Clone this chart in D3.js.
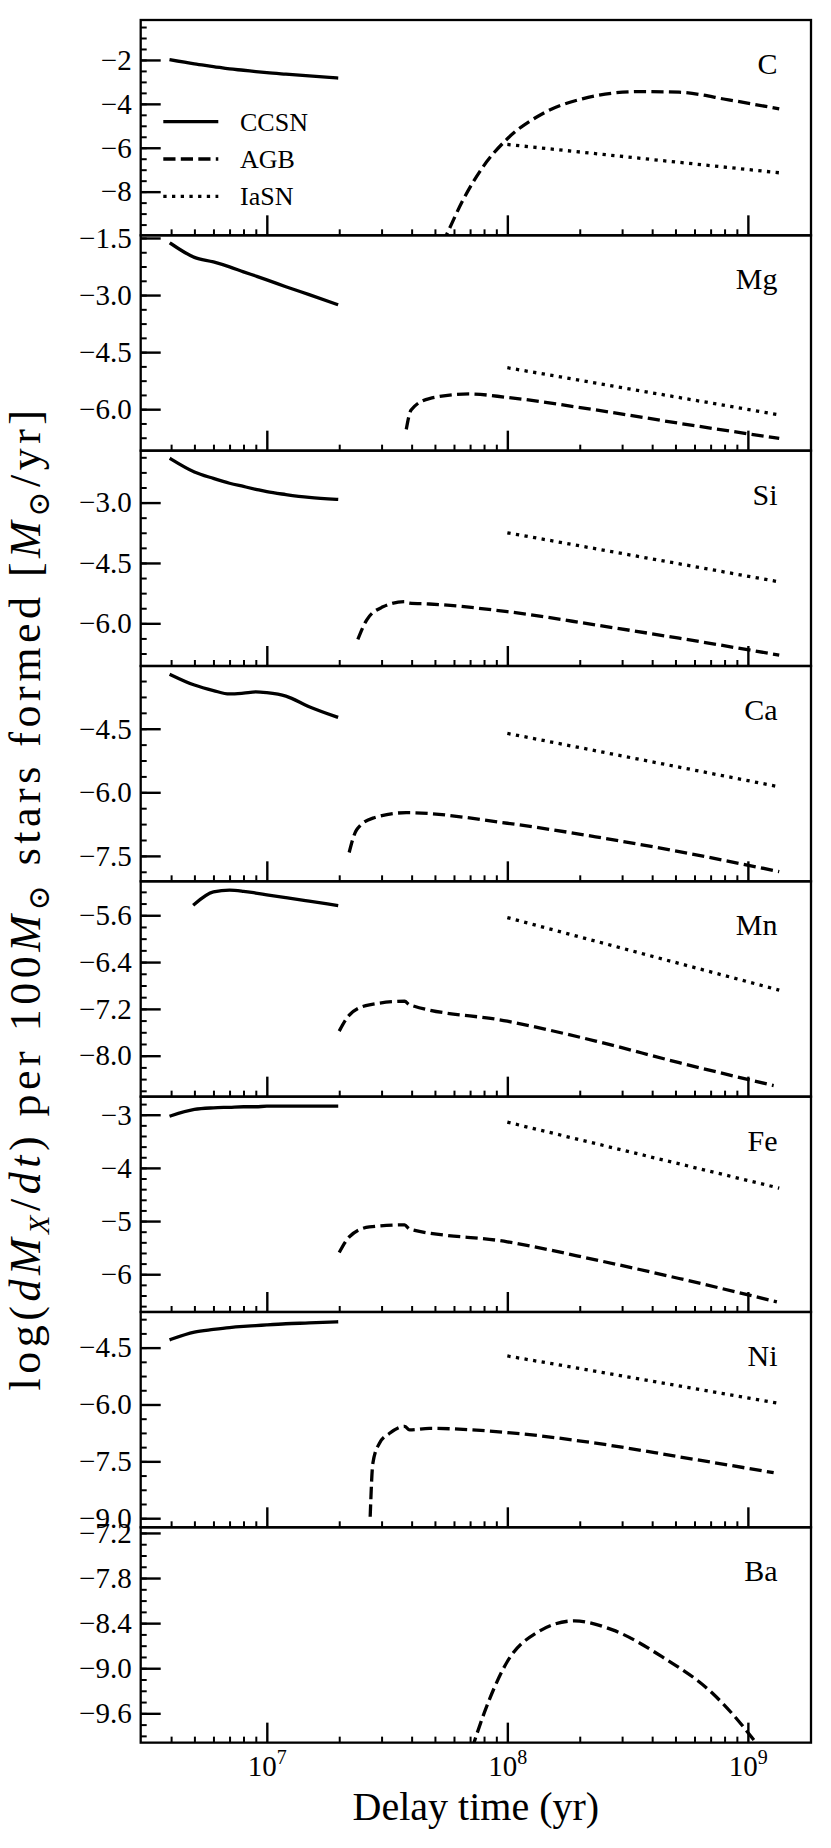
<!DOCTYPE html>
<html>
<head>
<meta charset="utf-8">
<script src="https://cdn.jsdelivr.net/npm/d3@7"></script>
<style>
  body { margin: 0; background: #fff; }
  svg text { font-family: "Liberation Serif", "Tinos", "Times New Roman", "DejaVu Serif", "Noto Serif", serif; }
</style>
</head>
<body>
<div id="chart"></div>
<script>
// panels, top to bottom
const elements = ["C", "Mg", "Si", "Ca", "Mn", "Fe", "Ni", "Ba"];

// x axis (delay time, yr)
const xLim = [2.99e6, 1.83e9];
const xMajorTicks = [1e7, 1e8, 1e9];
const xMinorTicks = [4e6, 5e6, 6e6, 7e6, 8e6, 9e6,
                     2e7, 3e7, 4e7, 5e7, 6e7, 7e7, 8e7, 9e7,
                     2e8, 3e8, 4e8, 5e8, 6e8, 7e8, 8e8, 9e8];

// y limits, major ticks, minor step and label format per panel
const yLims = [[-9.99, -0.18], [-7.09, -1.43], [-7.06, -1.71], [-8.10, -3.02],
               [-8.70, -5.02], [-6.71, -2.66], [-9.24, -3.56], [-9.99, -7.125]];
const yMajor = [[-2, -4, -6, -8], [-1.5, -3.0, -4.5, -6.0], [-3.0, -4.5, -6.0], [-4.5, -6.0, -7.5],
                [-5.6, -6.4, -7.2, -8.0], [-3, -4, -5, -6], [-4.5, -6.0, -7.5, -9.0],
                [-7.2, -7.8, -8.4, -9.0, -9.6]];
const yMinorStep = [0.5, 0.375, 0.375, 0.375, 0.2, 0.2, 0.375, 0.15];
const yFormat = [".0f", ".1f", ".1f", ".1f", ".1f", ".0f", ".1f", ".1f"];

// CCSN (solid)
const ccsnTime = [4e6, 5e6, 6e6, 7e6, 8e6, 9e6, 1e7, 1.2e7, 1.5e7, 1.95e7];
const ccsnC  = [-2.00, -2.18, -2.30, -2.41, -2.47, -2.53, -2.58, -2.65, -2.73, -2.82];
const ccsnMg = [-1.65, -2.01, -2.13, -2.26, -2.39, -2.50, -2.60, -2.78, -2.99, -3.24];
const ccsnSi = [-1.92, -2.24, -2.40, -2.52, -2.60, -2.67, -2.73, -2.80, -2.87, -2.92];
const ccsnCa = [-3.23, -3.47, -3.60, -3.68, -3.66, -3.63, -3.65, -3.73, -3.98, -4.22];
const ccsnMn = [null, -5.41, -5.20, -5.17, -5.19, -5.22, -5.25, -5.30, -5.36, -5.43];
const ccsnFe = [-3.02, -2.90, -2.87, -2.86, -2.85, -2.85, -2.84, -2.84, -2.84, -2.84];
const ccsnNi = [-4.28, -4.09, -4.02, -3.97, -3.94, -3.92, -3.90, -3.87, -3.85, -3.82];
const ccsnBa = [];

// AGB (dashed), [time, value]
const agbC  = [[5.0e7, -11.1], [5.57e7, -10.0], [6.53e7, -8.40], [7.91e7, -6.88], [1e8, -5.59],
               [1.40e8, -4.45], [2.05e8, -3.77], [3.53e8, -3.44], [5.18e8, -3.47], [8.32e8, -3.82], [1.35e9, -4.23]];
const agbMg = [[3.8e7, -6.53], [3.98e7, -6.02], [4.74e7, -5.72], [6.95e7, -5.60], [1e8, -5.69],
               [2.33e8, -6.02], [5.18e8, -6.37], [1.35e9, -6.77]];
const agbSi = [[2.39e7, -6.40], [2.6e7, -5.92], [3.04e7, -5.59], [3.74e7, -5.46], [3.92e7, -5.50],
               [4.74e7, -5.52], [1e8, -5.71], [2.33e8, -6.04], [5.18e8, -6.37], [1.35e9, -6.79]];
const agbCa = [[2.2e7, -7.42], [2.36e7, -6.89], [2.76e7, -6.61], [3.8e7, -6.48], [1e8, -6.73],
               [2.33e8, -7.05], [5.18e8, -7.40], [1.35e9, -7.87]];
const agbMn = [[2.0e7, -7.58], [2.21e7, -7.30], [2.67e7, -7.13], [3.74e7, -7.07], [3.92e7, -7.13],
               [1e8, -7.41], [2.33e8, -7.75], [5.18e8, -8.12], [1.28e9, -8.51]];
const agbFe = [[2.0e7, -5.59], [2.21e7, -5.29], [2.67e7, -5.11], [3.74e7, -5.07], [3.92e7, -5.15],
               [1e8, -5.39], [2.33e8, -5.73], [5.18e8, -6.08], [1.32e9, -6.52]];
const agbNi = [[2.69e7, -8.96], [2.76e7, -7.55], [2.94e7, -7.02], [3.24e7, -6.76], [3.74e7, -6.58],
               [3.92e7, -6.67], [4.74e7, -6.63], [1e8, -6.74], [2.33e8, -7.02], [5.18e8, -7.38], [1.28e9, -7.80]];
const agbBa = [[6.76e7, -10.3], [8.41e7, -9.42], [1e8, -8.91], [1.32e8, -8.53], [1.90e8, -8.37],
               [2.74e8, -8.49], [4.41e8, -8.85], [7.11e8, -9.33], [8.75e8, -9.63], [1.08e9, -9.99], [1.15e9, -10.1]];

// IaSN (dotted)
const iasnTime = [1e8, 1.35e9];
const iasnC  = [-5.85, -7.14];
const iasnMg = [-4.91, -6.15];
const iasnSi = [-3.75, -4.97];
const iasnCa = [-4.61, -5.87];
const iasnMn = [-5.64, -6.88];
const iasnFe = [-3.14, -4.38];
const iasnNi = [-4.72, -5.97];
const iasnBa = [];

const ccsnAll = [ccsnC, ccsnMg, ccsnSi, ccsnCa, ccsnMn, ccsnFe, ccsnNi, ccsnBa];
const agbAll = [agbC, agbMg, agbSi, agbCa, agbMn, agbFe, agbNi, agbBa];
const iasnAll = [iasnC, iasnMg, iasnSi, iasnCa, iasnMn, iasnFe, iasnNi, iasnBa];

const legendNames = ["CCSN", "AGB", "IaSN"];

// layout
const W = 831, H = 1848;
const plotLeft = 140.7, plotRight = 811, plotTop = 20, panelH = 215.33;
const lw = 3.3;
const dashAGB = "12.2,5.3";
const dotIa = "3.3,5.4";

const svg = d3.select("#chart").append("svg")
    .attr("width", W)
    .attr("height", H)
    .attr("viewBox", [0, 0, W, H]);

svg.append("rect").attr("width", W).attr("height", H).attr("fill", "#fff");

const x = d3.scaleLog().domain(xLim).range([plotLeft, plotRight]);

elements.forEach((el, i) => {
    const y0 = plotTop + i * panelH;
    const y = d3.scaleLinear().domain(yLims[i]).range([y0 + panelH, y0]);
    const g = svg.append("g");

    svg.append("clipPath").attr("id", "clip" + i)
        .append("rect")
        .attr("x", plotLeft).attr("y", y0)
        .attr("width", plotRight - plotLeft).attr("height", panelH);

    const line = d3.line()
        .x(d => x(d[0]))
        .y(d => y(d[1]))
        .curve(d3.curveMonotoneX);

    const plot = g.append("g").attr("clip-path", `url(#clip${i})`);

    const cc = ccsnTime.map((t, j) => [t, ccsnAll[i][j]]).filter(d => d[1] != null);
    if (cc.length) {
        plot.append("path").datum(cc)
            .attr("d", line)
            .attr("fill", "none").attr("stroke", "#000")
            .attr("stroke-width", lw).attr("stroke-linecap", "square")
            .attr("stroke-linejoin", "round");
    }
    if (agbAll[i].length) {
        plot.append("path").datum(agbAll[i])
            .attr("d", line)
            .attr("fill", "none").attr("stroke", "#000")
            .attr("stroke-width", lw).attr("stroke-dasharray", dashAGB);
    }
    if (iasnAll[i].length) {
        plot.append("path").datum(iasnTime.map((t, j) => [t, iasnAll[i][j]]))
            .attr("d", d3.line().x(d => x(d[0])).y(d => y(d[1])))
            .attr("fill", "none").attr("stroke", "#000")
            .attr("stroke-width", lw).attr("stroke-dasharray", dotIa);
    }

    // y axis: major and minor ticks pointing in
    const [lo, hi] = yLims[i];
    const step = yMinorStep[i];
    const minor = d3.range(Math.ceil(lo / step - 1e-6), Math.floor(hi / step + 1e-6) + 1).map(k => k * step);

    g.append("g")
        .attr("transform", `translate(${plotLeft},0)`)
        .call(d3.axisLeft(y).tickValues(minor).tickSizeInner(-6).tickSizeOuter(0).tickFormat(""))
        .call(a => a.select(".domain").remove())
        .call(a => a.selectAll("line").attr("stroke-width", 2));

    g.append("g")
        .attr("transform", `translate(${plotLeft},0)`)
        .call(d3.axisLeft(y).tickValues(yMajor[i]).tickSizeInner(-20).tickSizeOuter(0)
            .tickPadding(9).tickFormat(d3.format(yFormat[i])))
        .attr("font-family", null)
        .attr("font-size", 29)
        .call(a => a.select(".domain").remove())
        .call(a => a.selectAll("line").attr("stroke-width", 2.4))
        .call(a => a.selectAll("text").attr("fill", "#000"));

    // x axis ticks on every panel
    const yb = y0 + panelH;
    g.append("g")
        .attr("transform", `translate(0,${yb})`)
        .call(d3.axisBottom(x).tickValues(xMinorTicks).tickSizeInner(-6).tickSizeOuter(0).tickFormat(""))
        .call(a => a.select(".domain").remove())
        .call(a => a.selectAll("line").attr("stroke-width", 2));

    const xa = g.append("g")
        .attr("transform", `translate(0,${yb})`)
        .call(d3.axisBottom(x).tickValues(xMajorTicks).tickSizeInner(-20).tickSizeOuter(0)
            .tickFormat(i === elements.length - 1 ? (d => d) : ""))
        .attr("font-family", null)
        .attr("font-size", 29)
        .call(a => a.select(".domain").remove())
        .call(a => a.selectAll("line").attr("stroke-width", 2.4));

    if (i === elements.length - 1) {
        xa.selectAll("text")
            .attr("fill", "#000")
            .attr("y", 33)
            .attr("dy", 0)
            .each(function(d) {
                const t = d3.select(this);
                t.text(null);
                t.append("tspan").text("10");
                t.append("tspan").attr("font-size", 20).attr("dy", -12).text(Math.round(Math.log10(d)));
            });
    }

    // frame
    g.append("rect")
        .attr("x", plotLeft).attr("y", y0)
        .attr("width", plotRight - plotLeft).attr("height", panelH)
        .attr("fill", "none").attr("stroke", "#000").attr("stroke-width", 2.3);

    // element name
    g.append("text")
        .attr("x", 777.5).attr("y", y0 + 54)
        .attr("text-anchor", "end")
        .attr("font-size", 30)
        .text(el);
});

// legend in the top panel
const legend = svg.append("g");
const legendDash = [null, dashAGB, dotIa];
legendNames.forEach((name, k) => {
    const ly = 121.7 + k * 37.3;
    legend.append("line")
        .attr("x1", 163.3).attr("x2", 218.3).attr("y1", ly).attr("y2", ly)
        .attr("stroke", "#000").attr("stroke-width", lw)
        .attr("stroke-dasharray", legendDash[k]);
    legend.append("text")
        .attr("x", 240).attr("y", ly + 9)
        .attr("font-size", 26)
        .text(name);
});

// axis labels
svg.append("text")
    .attr("x", (plotLeft + plotRight) / 2).attr("y", 1820)
    .attr("text-anchor", "middle")
    .attr("font-size", 40)
    .text("Delay time (yr)");

const yLabelParts = [["log(", "n"], ["dM", "i"], ["X", "isub"], ["/", "n"], ["dt", "i"],
                     [") per 100", "n"], ["M", "i"], ["\u2299", "sub"], [" stars formed [", "n"],
                     ["M", "i"], ["\u2299", "sub"], ["/yr]", "n"]];
const yLabel = svg.append("text")
    .attr("transform", `translate(40,898) rotate(-90)`)
    .attr("text-anchor", "middle")
    .attr("font-size", 44);
let shifted = 0;
yLabelParts.forEach(([s, kind]) => {
    const sub = kind === "sub" || kind === "isub";
    const ts = yLabel.append("tspan").text(s);
    const want = sub ? 9 : 0;
    if (want !== shifted) { ts.attr("dy", want - shifted); shifted = want; }
    if (sub) ts.attr("font-size", 30);
    if (kind === "i" || kind === "isub") ts.attr("font-style", "italic");
});
// stretch the label to the length it has in the figure
const nChars = yLabelParts.map(p => p[0]).join("").length;
const natural = yLabel.node().getComputedTextLength();
yLabel.attr("letter-spacing", Math.max(0, (985 - natural) / nChars));
</script>
</body>
</html>
